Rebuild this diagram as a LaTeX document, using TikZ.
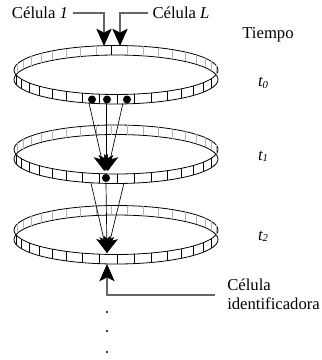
\documentclass[tikz,border=0pt]{standalone}
\usepackage{fontspec}
\setmainfont{Liberation Serif}
\usetikzlibrary{arrows.meta, positioning}

\begin{document}
\begin{tikzpicture}[
  x=0.75pt, y=-0.75pt,
  font=\fontsize{12.5}{14}\selectfont,
  band/.style      = {line width=0.6pt, black},
  backtick/.style  = {line width=0.5pt, black!30},
  fronttick/.style = {line width=0.6pt, black},
  lead/.style      = {line width=0.8pt, black!60},
  pointer/.style   = {-{Stealth[length=13pt, width=11.5pt, inset=3pt, color=black]}},
  arr/.style       = {-{Stealth[length=12pt, width=11pt, inset=3pt]}, line width=0.5pt},
  cell/.style      = {circle, fill, inner sep=0pt, minimum size=6pt},
  tlabel/.style    = {font=\fontsize{12.5}{14}\selectfont\itshape},
  pics/cellring/.style = {code={
    \draw[band] (0,0) ellipse [x radius=102, y radius=24.5];
    \draw[band] (0,9.5) ellipse [x radius=102, y radius=24.5];
    % cells on the back side
    \foreach \a in {11.4,20.4,...,165}
      \draw[backtick] ({102*cos(\a)},{-24.5*sin(\a)}) -- ++(0,9.5);
    % cells on the front side
    \foreach \a in {-167.8,-158,...,-20}
      \draw[fronttick] ({102*cos(\a)},{-24.5*sin(\a)}) -- ++(0,9.5);
  }},
]
\useasboundingbox (0,0) rectangle (321,360);

% three time steps of the ring
\pic at (116,70)    {cellring};
\pic at (116,149.5) {cellring};
\pic at (116,230)   {cellring};
\draw[fronttick, line width=0.9pt] ({116+102*cos(92.4)},{70-24.5*sin(92.4)}) -- ++(0,9.5);

% labels
\node (c1) at (40,13)  {Célula \textit{1}};
\node (cL) at (181,13) {Célula \textit{L}};
\node (tiempo) at (268,35) {Tiempo};
\node[tlabel] (t0) at (263,83)  {t\raisebox{-1pt}{\fontsize{8}{8}\selectfont 0}};
\node[tlabel] (t1) at (263,156) {t\raisebox{-1pt}{\fontsize{8}{8}\selectfont 1}};
\node[tlabel] (t2) at (263,236) {t\raisebox{-1pt}{\fontsize{8}{8}\selectfont 2}};
\node[align=left, anchor=west, inner sep=0pt] (cid) at (227,294) {Célula\\identificadora};

% first and last cell of the ring
\coordinate (top1) at (104,46);
\coordinate (topL) at (120,46);
\draw[lead, pointer] (c1.east) -| (top1);
\draw[lead, pointer] (cL.west) -| (topL);

% occupied cells at t0
\node[cell] (d1) at (92,99.5)  {};
\node[cell] (d2) at (107,99.5) {};
\node[cell] (d3) at (127,99.5) {};
\coordinate (a1) at (89,103);
\coordinate (a2) at (106,104);
\coordinate (a3) at (123,103);

% cell reached at t1
\node[cell] (m1) at (106,178) {};
\draw[arr, shorten >=2pt] (a1) -- (m1);
\draw[arr, shorten >=2pt] (a2) -- (m1);
\draw[arr, shorten >=2pt] (a3) -- (m1);

% cell reached at t2
\coordinate (b1) at (91,183);
\coordinate (b2) at (106,183.5);
\coordinate (b3) at (124,183);
\coordinate (m2) at (107,253);
\draw[arr] (b1) -- (m2);
\draw[arr] (b2) -- (m2);
\draw[arr] (b3) -- (m2);

% identifying cell
\coordinate (m3) at (107,264);
\coordinate (cidend) at (215,295);
\draw[lead, pointer] (cidend) -| (m3);

% and so on
\foreach \y [count=\i] in {312,331,352}
  \fill (107,\y) circle [radius=1.1] coordinate (dot\i);
\end{tikzpicture}
\end{document}
